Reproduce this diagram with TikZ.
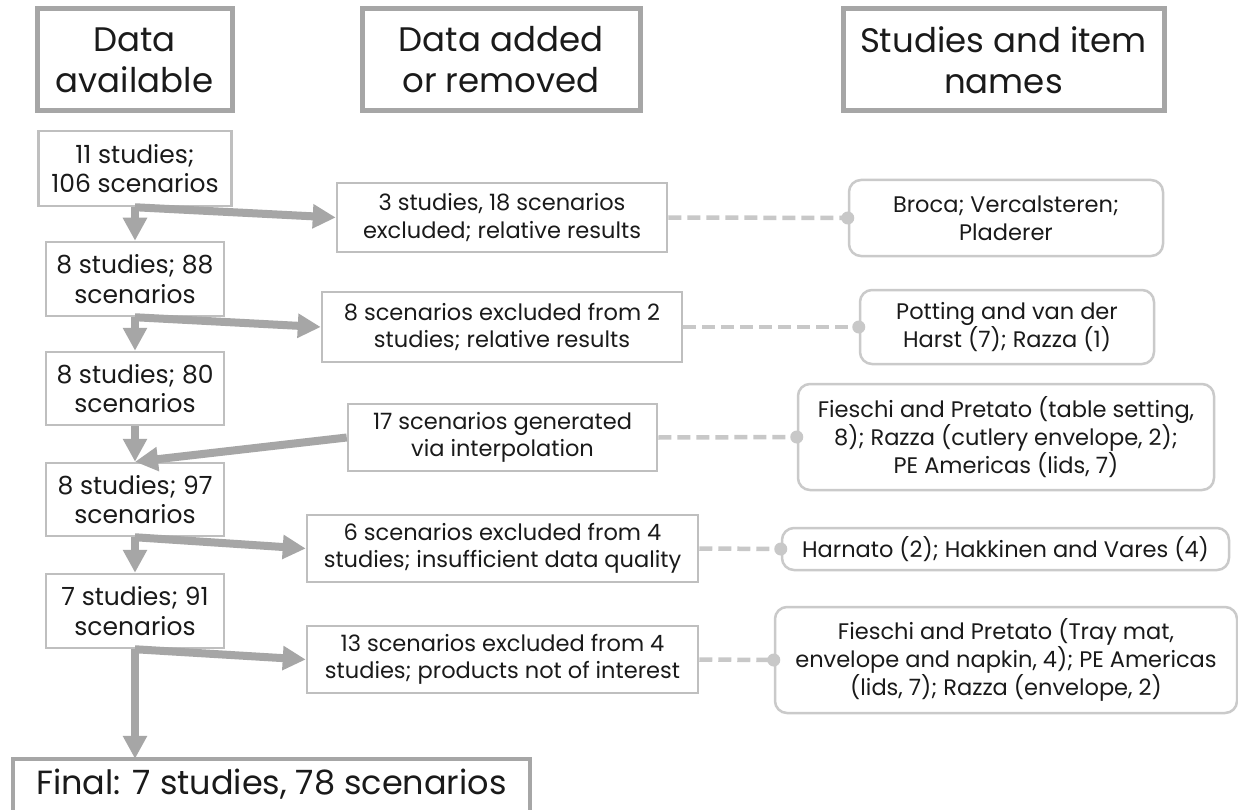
\documentclass[tikz,border=0pt]{standalone}
\usepackage{fontspec}
\setmainfont{Poppins}
\usetikzlibrary{arrows.meta}
\definecolor{hdrgray}{HTML}{A6A6A6}
\definecolor{boxgray}{HTML}{BFBFBF}
\definecolor{rgray}{HTML}{CACACA}
\definecolor{arrgray}{HTML}{A6A6A6}
\definecolor{dashgray}{HTML}{C8C8C8}
\definecolor{txt}{HTML}{1A1A1A}
\tikzset{
  hdr/.style={draw=hdrgray, line width=5pt, fill=white, align=center, inner sep=0pt, text=txt,
    font=\fontsize{34}{41}\selectfont},
  lbox/.style={draw=boxgray, line width=2.5pt, fill=white, align=center, inner sep=0pt, text=txt,
    font=\fontsize{25}{29.5}\selectfont},
  mbox/.style={draw=boxgray, line width=2.5pt, fill=white, align=center, inner sep=0pt, text=txt,
    font=\fontsize{22.5}{27.5}\selectfont},
  rbox/.style={draw=rgray, line width=2.5pt, rounded corners=12pt, fill=white, align=center, inner sep=0pt, text=txt,
    font=\fontsize{22.5}{28}\selectfont},
  ftext/.style={align=center, inner sep=0pt, text=txt, font=\fontsize{33.5}{38}\selectfont},
  fborder/.style={draw=hdrgray, line width=4pt},
  flow/.style={draw=arrgray, line width=8pt, -{Triangle[length=23pt,width=23pt]}},
  link/.style={draw=dashgray, line width=4.5pt, dash pattern=on 13pt off 6pt},
  dot/.style={fill=dashgray}
}
\begin{document}
\begin{tikzpicture}[x=1pt,y=-1pt]
\path[use as bounding box] (0,0) rectangle (1238,810);
\clip (0,0) rectangle (1238,810);
\fill[white] (0,0) rectangle (1238,810);
% headers
\node[hdr, minimum width=195pt, minimum height=102pt] (H1) at (134.5,60) {Data\\available};
\node[hdr, minimum width=278pt, minimum height=102pt] (H2) at (501,60) {Data added\\or removed};
\node[hdr, minimum width=321pt, minimum height=102pt] (H3) at (1003.5,60) {Studies and item\\names};
% left column
\node[lbox, minimum width=193pt, minimum height=75pt] (L1) at (135,168.5) {11 studies;\\106 scenarios};
\node[lbox, minimum width=178pt, minimum height=74pt] (L2) at (135,279) {8 studies; 88\\scenarios};
\node[lbox, minimum width=178pt, minimum height=73pt] (L3) at (135,388.5) {8 studies; 80\\scenarios};
\node[lbox, minimum width=178pt, minimum height=73pt] (L4) at (135,499.5) {8 studies; 97\\scenarios};
\node[lbox, minimum width=178pt, minimum height=74pt] (L5) at (135,611) {7 studies; 91\\scenarios};
% final box (cut by the lower edge)
\node[ftext, minimum width=517pt, minimum height=51pt] (F) at (271.5,784.5) {Final: 7 studies, 78 scenarios};
\draw[fborder] (F.south west) -- (F.north west) -- (F.north east) -- (F.south east);
% middle column
\node[mbox, minimum width=330pt, minimum height=69pt] (M1) at (502,217.5) {3 studies, 18 scenarios\\excluded; relative results};
\node[mbox, minimum width=360pt, minimum height=70pt] (M2) at (502,327) {8 scenarios excluded from 2\\studies; relative results};
\node[mbox, minimum width=309pt, minimum height=67pt] (M3) at (502.5,437.5) {17 scenarios generated\\via interpolation};
\node[mbox, minimum width=391pt, minimum height=67pt] (M4) at (502.5,548.5) {6 scenarios excluded from 4\\studies; insufficient data quality};
\node[mbox, minimum width=391pt, minimum height=67pt] (M5) at (502.5,659.5) {13 scenarios excluded from 4\\studies; products not of interest};
% right column
\node[rbox, minimum width=314pt, minimum height=76pt] (R1) at (1006,218) {Broca; Vercalsteren;\\Pladerer};
\node[rbox, minimum width=294pt, minimum height=74pt] (R2) at (1007,327) {Potting and van der\\Harst (7); Razza (1)};
\node[rbox, minimum width=416pt, minimum height=106pt] (R3) at (1006,437) {Fieschi and Pretato (table setting,\\8); Razza (cutlery envelope, 2);\\PE Americas (lids, 7)};
\node[rbox, minimum width=447pt, minimum height=42pt] (R4) at (1005.5,549) {Harnato (2); Hakkinen and Vares (4)};
\node[rbox, minimum width=462pt, minimum height=106pt] (R5) at (1006,660) {Fieschi and Pretato (Tray mat,\\envelope and napkin, 4); PE Americas\\(lids, 7); Razza (envelope, 2)};
% flow arrows
\draw[flow] (L1.south) -- (L2.north);
\draw[flow] (L1.south) -- (M1.west);
\draw[flow] (L2.south) -- (L3.north);
\draw[flow] (L2.south) -- (M2.west);
\draw[flow] (L3.south) -- (L4.north);
\draw[flow] (M3.west) -- (L4.north);
\draw[flow] (L4.south) -- (L5.north);
\draw[flow] (L4.south) -- (M4.west);
\coordinate (Ftop) at (L5.south |- F.north);
\draw[flow] (L5.south) -- (Ftop);
\draw[flow] (L5.south) -- (M5.west);
% links
\foreach \m/\r in {M1/R1, M2/R2, M3/R3, M4/R4, M5/R5}{
  \draw[link] (\m.east) -- (\r.west);
  \fill[dot] (\r.west) circle (6.5pt);
}
\end{tikzpicture}
\end{document}
